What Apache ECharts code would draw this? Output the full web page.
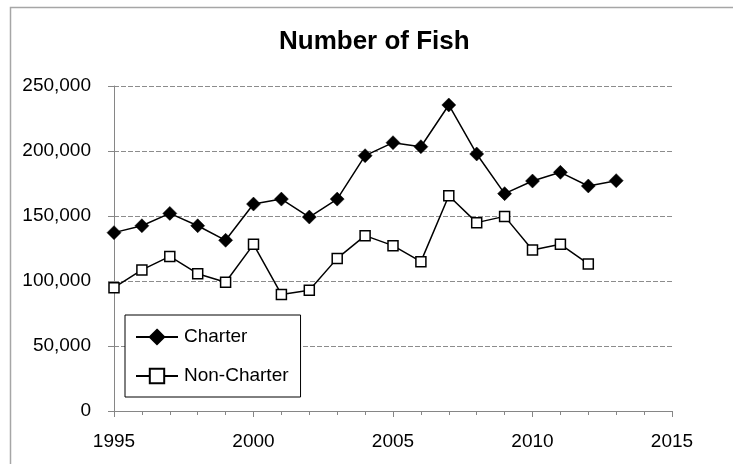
<!DOCTYPE html>
<html>
<head>
<meta charset="utf-8">
<script src="https://cdn.jsdelivr.net/npm/echarts@6/dist/echarts.min.js"></script>
<style>
html,body{margin:0;padding:0;background:#fff;}
#chart{width:733px;height:464px;}
</style>
</head>
<body>
<div id="chart"></div>
<script>
const titleText = "Number of Fish";
const charterYears = [1995,1996,1997,1998,1999,2000,2001,2002,2003,2004,2005,2006,2007,2008,2009,2010,2011,2012,2013];
const charterValues = [137200,142500,152000,142500,131300,159200,163000,149200,163000,196400,206400,203300,235400,197700,167200,176900,183600,173100,177200];
const nonCharterYears = [1995,1996,1997,1998,1999,2000,2001,2002,2003,2004,2005,2006,2007,2008,2009,2010,2011,2012];
const nonCharterValues = [94900,108500,118900,105600,99000,128200,89700,92800,117400,134900,127200,114900,165600,144900,149700,123800,128200,113100];
const xTicks = [1995,2000,2005,2010,2015];
const yTicks = [0,50000,100000,150000,200000,250000];

const font = '"Liberation Sans", Arial, sans-serif';
const chart = echarts.init(document.getElementById('chart'), null, {renderer:'canvas'});
const pair = (xs, ys) => xs.map((x,i)=>[x, ys[i]]);

chart.setOption({
  animation:false,
  backgroundColor:'#fff',
  graphic:[{
    type:'rect', left:8, top:5, silent:true,
    shape:{x:0,y:0,width:800,height:500},
    style:{fill:null, stroke:'#a6a6a6', lineWidth:1.5}
  }],
  title:{
    text:titleText, left:279, top:29, padding:0,
    textStyle:{fontFamily:font, fontWeight:'bold', fontSize:26, color:'#000'}
  },
  grid:{left:114, right:61, top:86, bottom:53, containLabel:false},
  legend:{
    orient:'vertical', left:125, top:315,
    padding:[12,12,11,10],
    borderColor:'#000', borderWidth:1, backgroundColor:'#fff',
    itemWidth:42, itemHeight:18, itemGap:19,
    textStyle:{fontFamily:font, fontSize:19, color:'#000', lineHeight:20, padding:[0,0,0,1]},
    data:['Charter','Non-Charter']
  },
  xAxis:{
    type:'value', min:xTicks[0], max:xTicks[xTicks.length-1], interval:5,
    axisLine:{show:true, onZero:false, lineStyle:{color:'#868686', width:1}},
    axisTick:{show:true, length:6, lineStyle:{color:'#868686'}},
    minorTick:{show:true, splitNumber:5, length:4, lineStyle:{color:'#868686'}},
    splitLine:{show:false},
    axisLabel:{fontFamily:font, fontSize:19, color:'#000', margin:21, formatter:v=>String(v)}
  },
  yAxis:{
    type:'value', min:yTicks[0], max:yTicks[yTicks.length-1], interval:50000,
    axisLine:{show:true, lineStyle:{color:'#868686', width:1}},
    axisTick:{show:true, length:6, lineStyle:{color:'#868686'}},
    splitLine:{show:true, lineStyle:{color:'#8c8c8c', type:[5,2], width:1}},
    axisLabel:{fontFamily:font, fontSize:19, color:'#000', margin:23,
      formatter:v=>v.toLocaleString('en-US')}
  },
  series:[
    {
      name:'Charter', type:'line', data:pair(charterYears, charterValues),
      symbol:'diamond', symbolSize:14, showAllSymbol:true,
      lineStyle:{color:'#000', width:1.5},
      itemStyle:{color:'#000', borderColor:'#000', borderWidth:0.5}
    },
    {
      name:'Non-Charter', type:'line', data:pair(nonCharterYears, nonCharterValues),
      symbol:'rect', symbolSize:10, showAllSymbol:true,
      lineStyle:{color:'#000', width:1.5},
      itemStyle:{color:'#fff', borderColor:'#000', borderWidth:1.5}
    }
  ]
});
</script>
</body>
</html>
